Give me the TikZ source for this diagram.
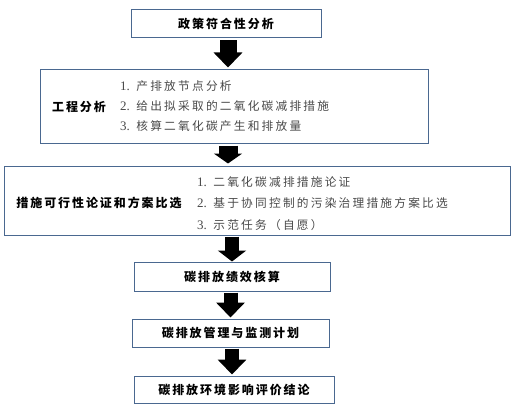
\documentclass[tikz,border=0pt]{standalone}
\usepackage{fontspec}
\usetikzlibrary{arrows.meta}
\newfontfamily\cjk[LetterSpace=16]{Noto Sans CJK SC}
\newfontfamily\cjkitem[LetterSpace=19]{Noto Sans CJK SC}
\newfontfamily\lat{Liberation Serif}
\newcommand{\numlab}[1]{{\lat\fontsize{13}{14}\selectfont #1}}
\definecolor{bordc}{HTML}{4A6890}
\definecolor{itemc}{HTML}{4A4A4A}
\begin{document}
\begin{tikzpicture}[x=1pt,y=-1pt,
  box/.style={draw=bordc, line width=1pt, inner sep=0pt, fill=white},
  title/.style={font=\cjk\bfseries\fontsize{12}{14}\selectfont, inner sep=0pt},
  items/.style={font=\cjkitem\fontsize{11.7}{#1}\selectfont, text=itemc, align=left, anchor=west, inner sep=0pt},
  barrow/.style n args={2}{line width=#1, -{Triangle[width=28pt,length=#2]}}]
\useasboundingbox (0,0) rectangle (513,417);
% boxes
\node[box, minimum width=190pt, minimum height=28pt] (b1) at (226,24) {};
\node[title] (t1) at (b1) {政策符合性分析};
\node[box, minimum width=388pt, minimum height=73pt] (b2) at (234,106.5) {};
\node[title] (t2) at (79,107) {工程分析};
\node[items=20pt] (i2) at (120,106.5) {\numlab{1.} 产排放节点分析\\\numlab{2.} 给出拟采取的二氧化碳减排措施\\\numlab{3.} 核算二氧化碳产生和排放量};
\node[box, minimum width=506pt, minimum height=69pt] (b3) at (257,200.5) {};
\node[title] (t3) at (99,203) {措施可行性论证和方案比选};
\node[items=21.5pt] (i3) at (197,203.5) {\numlab{1.} 二氧化碳减排措施论证\\\numlab{2.} 基于协同控制的污染治理措施方案比选\\\numlab{3.} 示范任务（自愿）};
\node[box, minimum width=196pt, minimum height=29pt] (b4) at (232,276.5) {};
\node[title] (t4) at (b4) {碳排放绩效核算};
\node[box, minimum width=197pt, minimum height=28pt] (b5) at (230.5,333) {};
\node[title] (t5) at (b5) {碳排放管理与监测计划};
\node[box, minimum width=200pt, minimum height=27pt] (b6) at (234,389.5) {};
\node[title] (t6) at (b6) {碳排放环境影响评价结论};
% arrows
\draw[barrow={17pt}{15pt}] ([xshift=2pt,yshift=-2pt]b1.south) -- ([xshift=-6pt,yshift=2pt]b2.north);
\draw[barrow={19pt}{10pt}] ([xshift=-6pt,yshift=-2pt]b2.south) -- ([xshift=-29pt,yshift=2pt]b3.north);
\draw[barrow={14pt}{11pt}] ([xshift=-25pt,yshift=-1pt]b3.south) -- (b4.north);
\draw[barrow={14pt}{15pt}] ([xshift=-1.5pt,yshift=-1pt]b4.south) -- ([yshift=1pt]b5.north);
\draw[barrow={14pt}{15pt}] ([xshift=1.5pt,yshift=-1pt]b5.south) -- ([xshift=-2pt,yshift=1pt]b6.north);
\end{tikzpicture}
\end{document}
